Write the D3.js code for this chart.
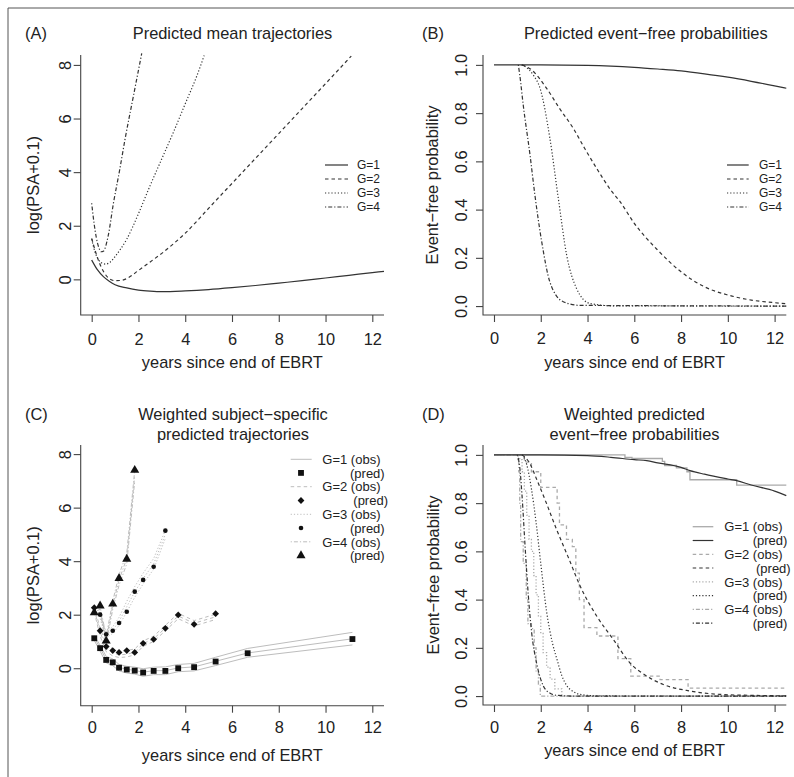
<!DOCTYPE html>
<html><head><meta charset="utf-8">
<script src="https://cdn.jsdelivr.net/npm/d3@7"></script>
<style>
body{margin:0;background:#fff}
svg{display:block}
text{font-family:"Liberation Sans",Arial,Helvetica,sans-serif;fill:#222}
</style>
</head><body>
<svg id="c" width="794" height="777"></svg>
<script>
// ---------- tick labels ----------
const xTicks = [0, 2, 4, 6, 8, 10, 12];
const yTicksLog = [0, 2, 4, 6, 8];
const yTicksProb = [0, 0.2, 0.4, 0.6, 0.8, 1.0];
const groups = ["G=1", "G=2", "G=3", "G=4"];

// ---------- Panel A: predicted mean trajectories ----------
const aTime1 = [0,0.25,0.5,0.75,1,1.5,2,2.5,3,4,5,6,7,8,9,10,11,12,12.5];
const aMean1 = [0.72,0.35,0.1,-0.07,-0.2,-0.32,-0.4,-0.44,-0.46,-0.43,-0.38,-0.31,-0.23,-0.14,-0.05,0.05,0.15,0.25,0.3];
const aTime2 = [0,0.25,0.5,0.75,1.0,1.25,1.5,2,2.5,3,3.5,4,5,6,7,8,9,10,11.1];
const aMean2 = [1.53,0.8,0.3,0.03,-0.05,-0.04,0.03,0.33,0.65,0.97,1.33,1.72,2.65,3.58,4.51,5.44,6.37,7.3,8.33];
const aTime3 = [0,0.15,0.3,0.45,0.6,0.8,1.0,1.25,1.5,1.75,2,2.5,3,3.5,4,4.5,4.81];
const aMean3 = [1.5,1.0,0.72,0.6,0.57,0.65,0.85,1.15,1.5,1.95,2.45,3.5,4.5,5.5,6.55,7.6,8.35];
const aTime4 = [0,0.1,0.2,0.3,0.4,0.5,0.7,0.93,1.2,1.42,1.78,2.14];
const aMean4 = [2.84,2.1,1.55,1.2,1.03,1.05,1.6,2.84,4.1,5.2,6.82,8.43];

// ---------- Panel B: predicted event-free probabilities ----------
const bTime1 = [0,2,4,5,6,7,8,9,10,11,12,12.5];
const bSurv1 = [1,1,0.998,0.995,0.99,0.983,0.975,0.963,0.949,0.932,0.913,0.903];
const bTime2 = [1.2,1.6,2.25,2.8,3.39,3.9,4.39,5.0,5.39,6,7,8,9,10,11,12,12.5];
const bSurv2 = [1,0.98,0.903,0.82,0.737,0.65,0.571,0.48,0.433,0.343,0.232,0.142,0.08,0.046,0.025,0.014,0.01];
const bTime3 = [1.18,1.5,1.7,1.97,2.39,2.75,3.11,3.53,4.1,5.1,12.5];
const bSurv3 = [1,0.98,0.955,0.903,0.696,0.447,0.21,0.073,0.011,0.001,0];
const bTime4 = [1.04,1.1,1.25,1.54,1.75,2.04,2.39,2.96,3.67,12.5];
const bSurv4 = [1,0.96,0.834,0.627,0.46,0.267,0.10,0.018,0.003,0];

// ---------- Panel C: weighted subject-specific trajectories ----------
const cX1 = [0.11,0.36,0.62,0.9,1.17,1.5,1.84,2.2,2.65,3.15,3.7,4.38,5.3,6.67,11.15];
const cPred1 = [1.12,0.75,0.31,0.22,0.02,-0.05,-0.09,-0.16,-0.1,-0.1,0.0,0.04,0.25,0.56,1.09];
const cHi1 = [1.22,0.86,0.44,0.35,0.14,0.07,0.04,-0.02,0.04,0.05,0.14,0.18,0.41,0.74,1.34];
const cMid1 = [1.14,0.76,0.33,0.23,0.03,-0.04,-0.08,-0.15,-0.09,-0.09,0.01,0.05,0.26,0.57,1.1];
const cLo1 = [1.04,0.64,0.2,0.1,-0.1,-0.18,-0.22,-0.3,-0.24,-0.24,-0.13,-0.1,0.1,0.41,0.87];

const cX2 = [0.11,0.36,0.62,0.9,1.17,1.5,1.84,2.2,2.65,3.15,3.7,4.38,5.3];
const cPred2 = [2.26,1.40,0.81,0.66,0.59,0.66,0.59,0.93,1.08,1.49,1.99,1.64,2.04];
const cHi2 = [2.3,1.5,0.9,0.72,0.62,0.66,0.72,1.02,1.2,1.6,2.05,1.78,2.02];
const cMid2 = [2.2,1.35,0.75,0.58,0.5,0.52,0.6,0.92,1.1,1.5,1.95,1.68,1.92];
const cLo2 = [2.1,1.2,0.62,0.46,0.4,0.42,0.5,0.82,1.0,1.4,1.85,1.58,1.82];

const cX3 = [0.36,0.62,0.9,1.17,1.5,1.84,2.2,2.65,3.15];
const cPred3 = [2.0,1.27,1.40,1.69,2.11,2.86,3.30,3.79,5.14];
const cHi3 = [2.05,1.35,1.55,1.9,2.5,3.05,3.55,4.1,5.15];
const cMid3 = [1.95,1.25,1.42,1.75,2.3,2.85,3.35,3.9,5.0];
const cLo3 = [1.85,1.15,1.3,1.6,2.1,2.65,3.15,3.7,4.85];

const cX4 = [0.11,0.36,0.62,0.9,1.17,1.5,1.84];
const cPred4 = [2.08,2.33,1.02,2.40,3.36,4.08,7.40];
const cHi4 = [2.2,2.3,1.2,2.5,3.5,4.3,7.4];
const cMid4 = [2.1,2.2,1.05,2.35,3.3,4.1,7.2];
const cLo4 = [2.0,2.1,0.9,2.2,3.1,3.9,7.0];

// ---------- Panel D: weighted event-free probabilities ----------
// observed (step functions)
const dObsT1 = [0,5.6,5.9,7.2,7.3,7.8,8.25,8.38,10.38,12.5];
const dObsS1 = [1,0.99,0.985,0.973,0.956,0.946,0.93,0.897,0.875,0.875];
const dObsT2 = [0,1.3,1.6,2.0,2.7,2.8,3.1,3.35,3.5,3.65,3.85,4.4,5.3,5.85,7.1,8.3,12.5];
const dObsS2 = [1,0.97,0.93,0.865,0.80,0.71,0.65,0.62,0.51,0.40,0.284,0.249,0.155,0.083,0.068,0.033,0.033];
const dObsT3 = [0,1.1,1.2,1.3,1.4,1.5,1.6,1.7,1.8,1.9,2.0,2.1,2.25,2.4,2.6,2.9,12.5];
const dObsS3 = [1,0.98,0.93,0.85,0.75,0.65,0.6,0.5,0.42,0.33,0.26,0.18,0.12,0.07,0.03,0,0];
const dObsT4 = [0,1.02,1.06,1.1,1.14,1.25,1.38,1.45,1.6,1.72,1.8,1.9,1.98,12.5];
const dObsS4 = [1,0.98,0.93,0.8,0.64,0.55,0.4,0.3,0.28,0.2,0.1,0.05,0,0];
// predicted (smooth)
const dPredT1 = [0,2,4,5,6,6.53,7,8,8.38,9,10,10.38,11,12,12.5];
const dPredS1 = [1,1,0.997,0.99,0.98,0.976,0.967,0.948,0.935,0.92,0.9,0.893,0.875,0.85,0.831];
const dPredT2 = [1.2,1.5,1.82,2.2,2.68,3.2,3.68,4.39,5.1,5.81,6.53,7.24,8.38,9.66,11,12.5];
const dPredS2 = [1,0.97,0.9,0.81,0.69,0.57,0.457,0.332,0.235,0.138,0.083,0.048,0.021,0.007,0.003,0.001];
const dPredT3 = [1.2,1.4,1.6,1.8,2.0,2.25,2.5,2.7,2.9,3.1,3.4,3.8,4.5,12.5];
const dPredS3 = [1,0.96,0.86,0.72,0.55,0.35,0.22,0.15,0.085,0.045,0.018,0.005,0.0005,0];
const dPredT4 = [1.0,1.1,1.2,1.33,1.47,1.61,1.82,2.11,2.4,2.7,3.5,12.5];
const dPredS4 = [1,0.95,0.83,0.62,0.415,0.263,0.138,0.042,0.012,0.003,0,0];

// ---------- drawing ----------
const svg = d3.select("#c");
const zip = (xs, ys) => xs.map((v, i) => [v, ys[i]]);

// outer frame (left and top edges)
svg.append("line").attr("x1",8).attr("y1",8).attr("x2",8).attr("y2",777).attr("stroke","#555").attr("stroke-width",1);
svg.append("line").attr("x1",8).attr("y1",8).attr("x2",794).attr("y2",8).attr("stroke","#555").attr("stroke-width",1);

const DASH = {solid:null, dashed:"3.5,3", dotted:"1.2,2", dashdot:"1.2,2,4,2"};
const styles = ["solid","dashed","dotted","dashdot"];

function makePanel(p) {
  const x = d3.scaleLinear().domain(p.xdom).range([p.x0, p.x1]);
  const y = d3.scaleLinear().domain(p.ydom).range([p.y1, p.y0]);
  const g = svg.append("g");
  const axCol = "#444";
  // L-shaped box
  g.append("path").attr("d", `M${p.x0},${p.y0}V${p.y1}H${p.x1}`)
    .attr("fill","none").attr("stroke",axCol).attr("stroke-width",1.1);
  // x axis ticks
  const xa = g.append("g").attr("transform",`translate(0,${p.y1})`)
    .call(d3.axisBottom(x).tickValues(xTicks).tickSize(7).tickFormat(d3.format("d")));
  xa.select(".domain").remove();
  xa.selectAll("line").attr("stroke",axCol).attr("stroke-width",1.1);
  xa.selectAll("text").attr("y", p.xLabBase - p.y1).attr("dy",0)
    .attr("font-size","16.4px").attr("fill","#222")
    .style("font-family",'"Liberation Sans",Arial,sans-serif');
  // y axis ticks
  const ya = g.append("g").attr("transform",`translate(${p.x0},0)`)
    .call(d3.axisLeft(y).tickValues(p.yticks).tickSize(7).tickFormat(p.yfmt));
  ya.select(".domain").remove();
  ya.selectAll("line").attr("stroke",axCol).attr("stroke-width",1.1);
  ya.selectAll("text").attr("x",0).attr("dy",0)
    .attr("transform",`translate(${p.yLabBase - p.x0},0) rotate(-90)`)
    .attr("text-anchor","middle").attr("font-size","16.4px").attr("fill","#222")
    .style("font-family",'"Liberation Sans",Arial,sans-serif');
  // axis titles
  g.append("text").attr("x",(p.x0+p.x1)/2).attr("y",p.xTitleBase)
    .attr("text-anchor","middle").attr("font-size","16.4px").text("years since end of EBRT");
  g.append("text").attr("transform",`translate(${p.yTitleBase},${(p.y0+p.y1)/2}) rotate(-90)`)
    .attr("text-anchor","middle").attr("font-size","16.4px").text(p.ytitle);
  // panel letter & title
  g.append("text").attr("x",p.letterX).attr("y",p.titleBase[0]).attr("font-size","16.4px").text(p.letter);
  p.title.forEach((t,i) => g.append("text").attr("x",p.titleX).attr("y",p.titleBase[i])
    .attr("text-anchor","middle").attr("font-size","16.4px").text(t));
  return {g, x, y};
}

function drawLine(P, data, style, color, width, curve) {
  const line = d3.line().x(d => P.x(d[0])).y(d => P.y(d[1])).curve(curve || d3.curveMonotoneX);
  P.g.append("path").datum(data).attr("d", line).attr("fill","none")
    .attr("stroke", color).attr("stroke-width", width)
    .attr("stroke-dasharray", DASH[style]);
}

// ===== Panel A =====
const A = makePanel({x0:80.7,x1:384,y0:55,y1:315,xdom:[-0.47,12.5],ydom:[-1.33,8.37],
  yticks:yTicksLog,yfmt:d3.format("d"),xLabBase:345,yLabBase:70.7,xTitleBase:368.3,yTitleBase:38.5,
  ytitle:"log(PSA+0.1)",letter:"(A)",letterX:25,title:["Predicted mean trajectories"],titleX:232.5,titleBase:[39.3]});
const aSeries = [zip(aTime1,aMean1), zip(aTime2,aMean2), zip(aTime3,aMean3), zip(aTime4,aMean4)];
aSeries.forEach((s,i) => drawLine(A, s, styles[i], "#333", 1.2));

// ===== Panel B =====
const B = makePanel({x0:483,x1:786.3,y0:55,y1:315,xdom:[-0.47,12.5],ydom:[-0.037,1.041],
  yticks:yTicksProb,yfmt:d3.format(".1f"),xLabBase:344,yLabBase:467,xTitleBase:368,yTitleBase:438,
  ytitle:"Event\u2212free probability",letter:"(B)",letterX:422,title:["Predicted event\u2212free probabilities"],titleX:645.8,titleBase:[39.3]});
const bSeries = [zip(bTime1,bSurv1), zip(bTime2,bSurv2), zip(bTime3,bSurv3), zip(bTime4,bSurv4)];
bSeries.forEach((s,i) => drawLine(B, s, styles[i], "#333", 1.2));

// simple legends for A and B
function legendSimple(g, lx0, lx1, tx, rows) {
  rows.forEach((r,i) => {
    const yy = 165 + i*14;
    g.append("line").attr("x1",lx0).attr("x2",lx1).attr("y1",yy).attr("y2",yy)
      .attr("stroke","#333").attr("stroke-width",1.2).attr("stroke-dasharray",DASH[styles[i]]);
    g.append("text").attr("x",tx).attr("y",yy+4.3).attr("font-size","12px").text(r);
  });
}
legendSimple(A.g, 325, 348, 357, groups);
legendSimple(B.g, 727, 748.7, 759, groups);

// ===== Panel C =====
const C = makePanel({x0:80.7,x1:384,y0:445,y1:705.7,xdom:[-0.47,12.5],ydom:[-1.40,8.34],
  yticks:yTicksLog,yfmt:d3.format("d"),xLabBase:733.3,yLabBase:70.7,xTitleBase:761,yTitleBase:38.5,
  ytitle:"log(PSA+0.1)",letter:"(C)",letterX:25,title:["Weighted subject\u2212specific","predicted trajectories"],titleX:233,titleBase:[420,439.5]});
const obsLight = "#bdbdbd";
const cObs = [
  [cX1,[cHi1,cMid1,cLo1]], [cX2,[cHi2,cMid2,cLo2]], [cX3,[cHi3,cMid3,cLo3]], [cX4,[cHi4,cMid4,cLo4]]
];
cObs.forEach(([xs, bands], i) => bands.forEach(b => drawLine(C, zip(xs,b), styles[i], obsLight, 1, d3.curveLinear)));

const diamond = "M0,-3.4L3.4,0L0,3.4L-3.4,0Z";
const symPaths = [
  d3.symbol(d3.symbolSquare, 34)(),
  diamond,
  d3.symbol(d3.symbolCircle, 17)(),
  d3.symbol(d3.symbolTriangle, 36)()
];
const cPreds = [zip(cX1,cPred1), zip(cX2,cPred2), zip(cX3,cPred3), zip(cX4,cPred4)];
cPreds.forEach((s,i) => {
  C.g.selectAll(null).data(s).enter().append("path")
    .attr("d", symPaths[i]).attr("fill","#111")
    .attr("transform", d => `translate(${C.x(d[0])},${C.y(d[1])})`);
});

// legend C
const cRowY = [459.3,472.9,486.7,500.5,514.3,528,541.8,555.6];
const predX = [350,353.3,350,350];
groups.forEach((gname,i) => {
  const yo = cRowY[2*i], yp = cRowY[2*i+1];
  C.g.append("line").attr("x1",290.7).attr("x2",311.7).attr("y1",yo).attr("y2",yo)
    .attr("stroke",obsLight).attr("stroke-width",1).attr("stroke-dasharray",DASH[styles[i]]);
  C.g.append("text").attr("x",322.3).attr("y",yo+4.7).attr("font-size","13px").text(gname+" (obs)");
  C.g.append("path").attr("d",symPaths[i]).attr("fill","#111").attr("transform",`translate(301,${yp})`);
  C.g.append("text").attr("x",predX[i]).attr("y",yp+4.7).attr("font-size","13px").text("(pred)");
});

// ===== Panel D =====
const D = makePanel({x0:483,x1:786.3,y0:445,y1:705,xdom:[-0.47,12.5],ydom:[-0.037,1.041],
  yticks:yTicksProb,yfmt:d3.format(".1f"),xLabBase:733.3,yLabBase:467,xTitleBase:755.7,yTitleBase:438.8,
  ytitle:"Event\u2212free probability",letter:"(D)",letterX:422,title:["Weighted predicted","event\u2212free probabilities"],titleX:634.5,titleBase:[420,439.5]});
const dObsCol = "#aaaaaa", dPredCol = "#333";
const dObs = [zip(dObsT1,dObsS1), zip(dObsT2,dObsS2), zip(dObsT3,dObsS3), zip(dObsT4,dObsS4)];
const dPred = [zip(dPredT1,dPredS1), zip(dPredT2,dPredS2), zip(dPredT3,dPredS3), zip(dPredT4,dPredS4)];
dObs.forEach((s,i) => drawLine(D, s, styles[i], dObsCol, 1.3, d3.curveStepAfter));
dPred.forEach((s,i) => drawLine(D, s, styles[i], dPredCol, 1.2));

// legend D
const dRowY = [526.7,540.5,554.3,568,581.8,595.6,609.4,623.2];
const dPredX = [752.7,756,752.7,752.7];
groups.forEach((gname,i) => {
  const yo = dRowY[2*i], yp = dRowY[2*i+1];
  D.g.append("line").attr("x1",692.7).attr("x2",713.3).attr("y1",yo).attr("y2",yo)
    .attr("stroke",dObsCol).attr("stroke-width",1.3).attr("stroke-dasharray",DASH[styles[i]]);
  D.g.append("text").attr("x",724.3).attr("y",yo+4.7).attr("font-size","13px").text(gname+" (obs)");
  D.g.append("line").attr("x1",692.7).attr("x2",713.3).attr("y1",yp).attr("y2",yp)
    .attr("stroke",dPredCol).attr("stroke-width",1.2).attr("stroke-dasharray",DASH[styles[i]]);
  D.g.append("text").attr("x",dPredX[i]).attr("y",yp+4.7).attr("font-size","13px").text("(pred)");
});
</script>
</body></html>
